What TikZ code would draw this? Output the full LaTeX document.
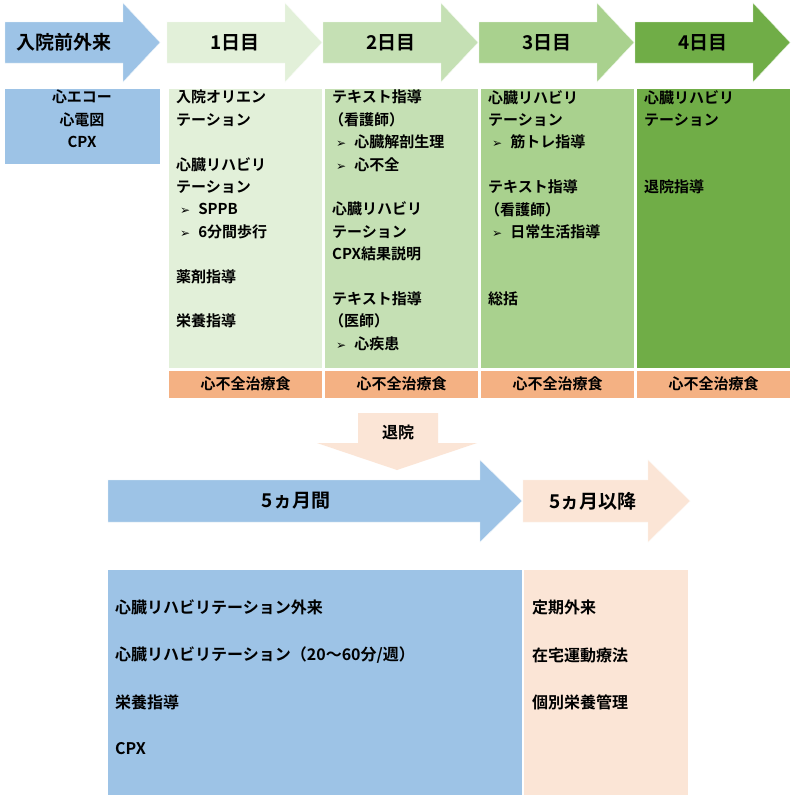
\documentclass[tikz,border=0pt]{standalone}
\usepackage{fontspec}
\setmainfont{Noto Sans CJK JP}[BoldFont={Noto Sans CJK JP Bold}]
\newfontfamily\djf{DejaVu Sans}
\definecolor{cblue}{HTML}{9DC3E6}
\definecolor{gA}{HTML}{E2F0D9}
\definecolor{gB}{HTML}{C5E0B4}
\definecolor{gC}{HTML}{A9D18E}
\definecolor{gD}{HTML}{70AD47}
\definecolor{salm}{HTML}{F4B183}
\definecolor{peach}{HTML}{FBE5D6}
\begin{document}
\begin{tikzpicture}[x=1pt,y=-1pt,
  hdr/.style={font=\fontsize{19}{22}\selectfont\bfseries,inner sep=0},
  col/.style={anchor=north west,align=left,inner sep=0,font=\fontsize{15}{22.4}\selectfont\bfseries},
  big/.style={anchor=west,inner sep=0,font=\fontsize{16}{20}\selectfont\bfseries},
  diet/.style={inner sep=0,font=\fontsize{15}{18}\selectfont\bfseries}]
\newcommand\bul[1]{\hspace*{4pt}{\djf\fontsize{12}{14}\selectfont ➢}\hspace*{8pt}#1}
\useasboundingbox (0,0) rectangle (795,796);
\fill[white] (0,0) rectangle (795,796);
% top arrows
\newcommand\harrow[3]{\fill[#3,draw=white!80!#3] (#1,22) -- (#1+118,22) -- (#1+118,3) -- (#1+155,42.5) -- (#1+118,82) -- (#1+118,63) -- (#1,63) -- cycle;}
\harrow{5}{}{cblue}
\harrow{167}{}{gA}
\harrow{323}{}{gB}
\harrow{479}{}{gC}
\harrow{635}{}{gD}
\node[hdr] (h0) at (64,42.5) {入院前外来};
\node[hdr] (h1) at (235,42.5) {1日目};
\node[hdr] (h2) at (391,42.5) {2日目};
\node[hdr] (h3) at (547,42.5) {3日目};
\node[hdr] (h4) at (703,42.5) {4日目};
% boxes
\fill[cblue] (5,89) rectangle (160,164);
\fill[gA] (169,89) rectangle (322,368);
\fill[gB] (325,89) rectangle (478,368);
\fill[gC] (481,89) rectangle (634,368);
\fill[gD] (637,89) rectangle (790,368);
\foreach \x in {169,325,481,637}{\fill[salm] (\x,371) rectangle (\x+153,398);}
\foreach \x/\n in {245.5/d1,401.5/d2,557.5/d3,713.5/d4}{\node[diet] (\n) at (\x,384) {心不全治療食};}
\node[col,anchor=north,align=center] (pre) at (82,90) {心エコー\\心電図\\CPX};
\node[col] (c1) at (176,90) {入院オリエン\\テーション\\[22.4pt]心臓リハビリ\\テーション\\\bul{SPPB}\\\bul{6分間歩行}\\[22.4pt]薬剤指導\\[22.4pt]栄養指導};
\node[col] (c2) at (332,90) {テキスト指導\\\hspace*{-3pt}（看護師）\\\bul{心臓解剖生理}\\\bul{心不全}\\[22.4pt]心臓リハビリ\\テーション\\CPX結果説明\\[22.4pt]テキスト指導\\\hspace*{-3pt}（医師）\\\bul{心疾患}};
\node[col] (c3) at (488,90) {心臓リハビリ\\テーション\\\bul{筋トレ指導}\\[22.4pt]テキスト指導\\\hspace*{-3pt}（看護師）\\\bul{日常生活指導}\\[44.8pt]総括};
\node[col] (c4) at (644,90) {心臓リハビリ\\テーション\\[44.8pt]退院指導};
% down arrow
\fill[peach] (358,413) -- (438,413) -- (438,443) -- (477,443) -- (397,470) -- (317,443) -- (358,443) -- cycle;
\node[diet,font=\fontsize{16}{18}\selectfont\bfseries] (tai) at (398,432) {退院};
% period arrows
\fill[cblue,draw=white!80!cblue] (108,480) -- (480,480) -- (480,460) -- (522,501) -- (480,542) -- (480,522) -- (108,522) -- cycle;
\fill[peach,draw=white!60!peach] (523,480) -- (648,480) -- (648,460) -- (690,501) -- (648,542) -- (648,522) -- (523,522) -- cycle;
\node[hdr] (p1) at (296,501) {5ヵ月間};
\node[hdr] (p2) at (593,501) {5ヵ月以降};
% bottom boxes
\fill[cblue] (108,570) rectangle (522,795);
\fill[peach] (524,570) rectangle (688,795);
\node[big] (b1) at (115,607) {心臓リハビリテーション外来};
\node[big] (b2) at (115,655) {心臓リハビリテーション（20～60分/週）};
\node[big] (b3) at (115,702) {栄養指導};
\node[big] (b4) at (115,749) {CPX};
\node[big] (r1) at (532,607) {定期外来};
\node[big] (r2) at (532,655) {在宅運動療法};
\node[big] (r3) at (532,702) {個別栄養管理};
\end{tikzpicture}
\end{document}
